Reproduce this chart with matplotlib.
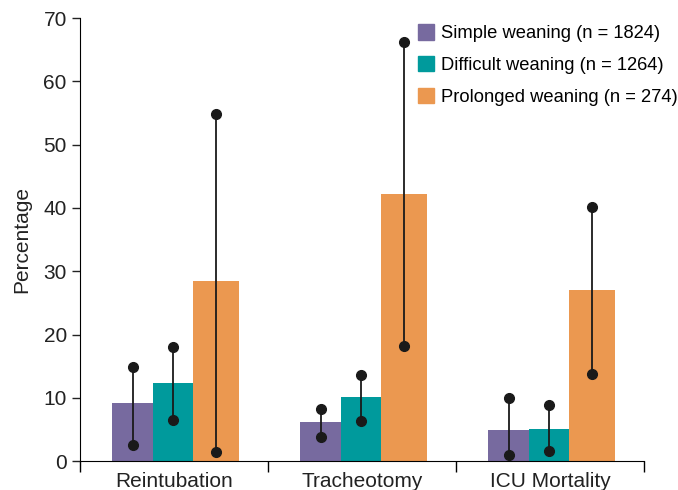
import numpy as np
import matplotlib.pyplot as plt
from matplotlib.patches import Patch

plt.rcParams['font.family'] = ['Liberation Sans', 'DejaVu Sans']

categories = ["Reintubation", "Tracheotomy", "ICU Mortality"]
series = ["Simple weaning (n = 1824)", "Difficult weaning (n = 1264)", "Prolonged weaning (n = 274)"]
colors = ["#776a9f", "#009a9c", "#eb9850"]

values = [
    [9.2, 6.1, 4.9],
    [12.3, 10.2, 5.1],
    [28.4, 42.2, 27.0],
]
low = [
    [2.6, 3.8, 0.9],
    [6.5, 6.4, 1.6],
    [1.5, 18.2, 13.8],
]
high = [
    [14.9, 8.2, 10.0],
    [18.0, 13.6, 8.9],
    [54.9, 66.2, 40.1],
]

edges = [-0.33, -0.11, 0.10]
widths = [0.22, 0.21, 0.245]

fig = plt.figure(figsize=(6.78, 4.9), dpi=100)
ax = fig.add_axes([0.118, 0.059, 0.832, 0.904])

x = np.arange(len(categories))
for i in range(3):
    ax.bar(x + edges[i], values[i], widths[i], align='edge', color=colors[i], zorder=1)
    xc = x + edges[i] + widths[i] / 2
    for j in range(len(categories)):
        ax.plot([xc[j], xc[j]], [low[i][j], high[i][j]], color="#1a1a1a", lw=1.3,
                marker='o', ms=7, zorder=3)

ax.set_xlim(-0.5, 2.5)
ax.set_ylim(0, 70)
ax.set_yticks(range(0, 71, 10))
ax.tick_params(axis='y', labelsize=15, length=6, width=1, colors='#222222')
ax.set_xticks([-0.5, 0.5, 1.5, 2.5])
ax.set_xticklabels([])
ax.set_xticks(x, minor=True)
ax.set_xticklabels(categories, minor=True)
ax.tick_params(axis='x', which='major', direction='out', length=8, width=1)
ax.tick_params(axis='x', which='minor', length=0, labelsize=15, pad=8, colors='#222222')
ax.spines['top'].set_visible(False)
ax.spines['right'].set_visible(False)
ax.set_ylabel("Percentage", fontsize=15, color='#222222', labelpad=9)

handles = [Patch(color=c) for c in colors]
ax.legend(handles, series, loc='upper left', bbox_to_anchor=(0.599, 0.986), frameon=False,
          fontsize=13.2, handlelength=0.9, handleheight=0.9, handletextpad=0.35,
          labelspacing=0.75, borderaxespad=0, borderpad=0)

fig.savefig("out.png", dpi=100)
